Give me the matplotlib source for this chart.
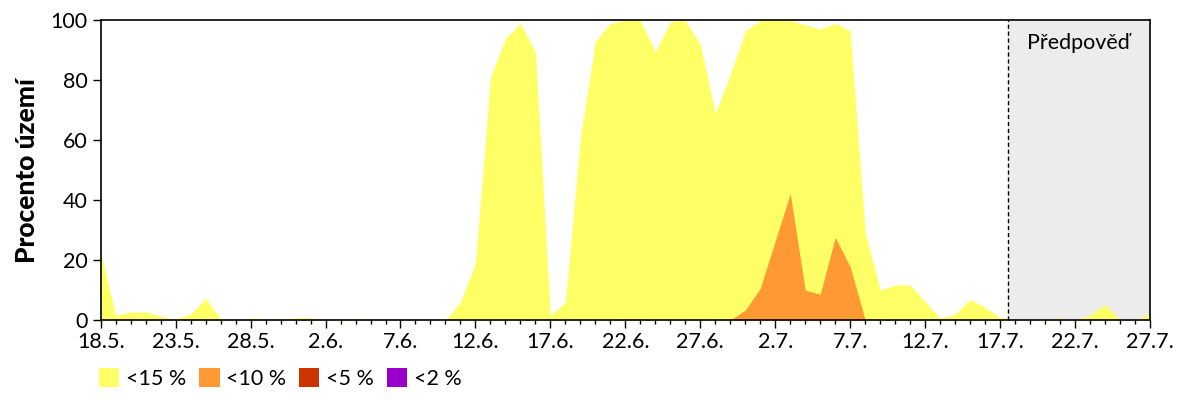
import numpy as np
import matplotlib
matplotlib.use('Agg')
import matplotlib.pyplot as plt
from matplotlib.patches import Patch

plt.rcParams['font.family'] = ['Lato', 'DejaVu Sans']

# dny od 18.5. do 27.7.
days = np.arange(71)
tick_pos = np.arange(0, 71, 5)
tick_labels = ['18.5.', '23.5.', '28.5.', '2.6.', '7.6.', '12.6.', '17.6.', '22.6.',
               '27.6.', '2.7.', '7.7.', '12.7.', '17.7.', '22.7.', '27.7.']

# procento uzemi pod danou hranici
pod15 = [22.4, 1.6, 2.7, 2.7, 1.3, 0.2, 2.0, 7.3, 0.2, 0.0,
         0.7, 0.1, 0.3, 0.7, 0.7, 0.0, 0.0, 0.4, 0.0, 0.0,
         0.0, 0.0, 0.0, 0.0, 6.0, 19.0, 81.0, 94.0, 99.0, 89.5,
         1.5, 6.0, 61.0, 93.0, 99.0, 100.0, 100.0, 89.5, 99.5, 100.0,
         92.0, 69.0, 82.0, 96.5, 100.0, 100.0, 100.0, 98.5, 97.0, 99.0,
         96.5, 29.5, 10.0, 11.7, 11.7, 6.1, 0.6, 1.9, 6.9, 4.2,
         0.9, 0.0, 0.0, 0.0, 0.7, 0.1, 1.7, 5.2, 0.0, 0.0, 2.2]
pod10 = [0.0] * 35 + [0.3, 0.3] + [0.0] * 6 + [3.3, 10.6, 26.4, 42.2, 10.0, 8.6, 27.6,
         17.8] + [0.0] * 20
pod5 = [0.0] * 71
pod2 = [0.0] * 71

forecast_start = 60.5

series = [(pod15, '#ffff66', '<15 %'),
          (pod10, '#ff9933', '<10 %'),
          (pod5, '#cc3300', '<5 %'),
          (pod2, '#9900cc', '<2 %')]

fig = plt.figure(figsize=(12, 4), dpi=100)
ax = fig.add_axes([100.7 / 1200, 0.2, (1150 - 100.7) / 1200, (320 - 20.3) / 400])

# predpoved - sede pozadi
ax.axvspan(forecast_start, 70, color='#ececec', zorder=0, lw=0)
ax.axvline(forecast_start, color='black', lw=1, ls=(0, (3, 2)), zorder=3)
ax.text((forecast_start + 70) / 2, 92.5, 'Předpověď', ha='center', va='center', fontsize=15.5)

handles = []
for vals, col, lab in series:
    ax.fill_between(days, 0, vals, color=col, lw=0, zorder=2)
    handles.append(Patch(facecolor=col, edgecolor='none', label=lab))

ax.set_xlim(0, 70)
ax.set_ylim(0, 100)
ax.set_xticks(tick_pos)
ax.set_xticklabels(tick_labels)
ax.set_xticks(days, minor=True)
ax.set_yticks(np.arange(0, 101, 20))
ax.tick_params(axis='both', which='major', labelsize=15.5, length=6, width=1)
ax.tick_params(axis='x', which='minor', length=3, width=1)
ax.tick_params(axis='x', pad=3)
for s in ax.spines.values():
    s.set_linewidth(1.2)

ax.set_ylabel('Procento území', fontsize=19, fontweight='black', labelpad=8)

fig.legend(handles=handles, loc='upper left', bbox_to_anchor=(99 / 1200, 1 - 368 / 400),
           ncol=4, frameon=False, fontsize=15.5, handlelength=0.95, handleheight=0.95,
           handletextpad=0.3, columnspacing=0.6, borderpad=0, borderaxespad=0)

plt.savefig('out.png', dpi=100)
